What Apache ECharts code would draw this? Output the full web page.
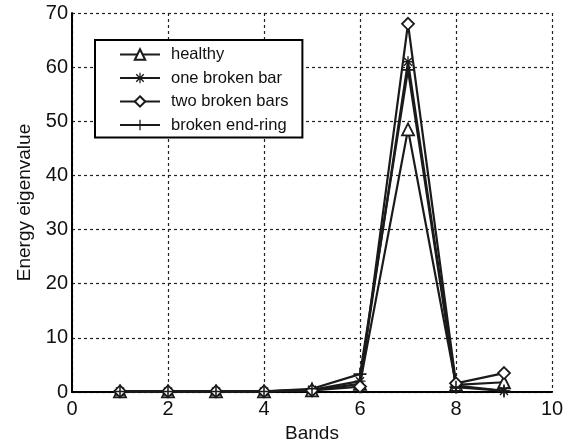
<!DOCTYPE html>
<html>
<head>
<meta charset="utf-8">
<script src="https://cdn.jsdelivr.net/npm/echarts@6/dist/echarts.min.js"></script>
<style>
html,body{margin:0;padding:0;background:#fff;}
#chart{width:578px;height:444px;}
</style>
</head>
<body>
<div id="chart"></div>
<script>
const bands = [1, 2, 3, 4, 5, 6, 7, 8, 9];
const healthy = [0.1, 0.1, 0.1, 0.1, 0.3, 1.5, 48.5, 1.3, 1.8];
const oneBrokenBar = [0.1, 0.1, 0.1, 0.1, 0.4, 2.0, 61.0, 1.2, 0.2];
const twoBrokenBars = [0.1, 0.1, 0.1, 0.1, 0.3, 1.0, 68.0, 1.6, 3.5];
const brokenEndRing = [0.1, 0.1, 0.1, 0.1, 0.6, 3.3, 59.5, 0.9, 0.2];
const xTicks = [0, 2, 4, 6, 8, 10];
const yTicks = [0, 10, 20, 30, 40, 50, 60, 70];

const STAR = 'path://M4.4,0 L5.6,0 L5.6,10 L4.4,10 Z M0.9,1.8 L1.8,0.9 L9.1,8.2 L8.2,9.1 Z M8.2,0.9 L9.1,1.8 L1.8,9.1 L0.9,8.2 Z M0,4.4 L10,4.4 L10,5.6 L0,5.6 Z';
const PLUS = 'path://M4.4,0 L5.6,0 L5.6,4.4 L10,4.4 L10,5.6 L5.6,5.6 L5.6,10 L4.4,10 L4.4,5.6 L0,5.6 L0,4.4 L4.4,4.4 Z';

function pairs(vals){ return bands.map((b,i)=>[b, vals[i]]); }
const ink = '#1a1a1a';
function mk(name, vals, symbol, hollow, size){
  return {
    name: name, type: 'line', data: pairs(vals),
    symbol: symbol, symbolSize: size, showSymbol: true,
    lineStyle: {color: ink, width: 2.2},
    itemStyle: hollow ? {color: '#fff', borderColor: ink, borderWidth: 1.8} : {color: ink, borderColor: ink, borderWidth: 0},
    emphasis: {disabled: true},
    animation: false
  };
}

const chart = echarts.init(document.getElementById('chart'));
chart.setOption({
  backgroundColor: '#fff',
  textStyle: {fontFamily: 'Liberation Sans, Arial, sans-serif'},
  grid: {left: 72, right: 26, top: 13, bottom: 52, containLabel: false, outerBoundsMode: 'none'},
  legend: {
    orient: 'vertical', left: 95, top: 40,
    padding: [6, 14, 4, 24],
    itemGap: 6.5, itemWidth: 40, itemHeight: 13,
    borderColor: '#000', borderWidth: 2, backgroundColor: '#fff',
    textStyle: {fontSize: 16.5, color: '#111', padding: [0, 0, 0, 6], fontFamily: 'Liberation Sans, Arial, sans-serif'},
    data: ['healthy', 'one broken bar', 'two broken bars', 'broken end-ring']
  },
  xAxis: {
    type: 'value', min: xTicks[0], max: xTicks[xTicks.length-1], interval: 2,
    name: 'Bands', nameLocation: 'middle', nameGap: 30,
    nameTextStyle: {fontSize: 19, color: '#111'},
    axisLine: {lineStyle: {color: '#000', width: 2}},
    axisTick: {show: false},
    axisLabel: {fontSize: 20, color: '#111', margin: 7},
    splitLine: {show: true, lineStyle: {color: '#222', type: [3, 3], width: 1.2}}
  },
  yAxis: {
    type: 'value', min: yTicks[0], max: yTicks[yTicks.length-1], interval: 10,
    name: 'Energy eigenvalue', nameLocation: 'middle', nameGap: 38,
    nameTextStyle: {fontSize: 19, color: '#111'},
    axisLine: {show: true, lineStyle: {color: '#000', width: 2}},
    axisTick: {show: false},
    axisLabel: {fontSize: 20, color: '#111', margin: 4},
    splitLine: {show: true, lineStyle: {color: '#222', type: [3, 3], width: 1.2}}
  },
  series: [
    mk('healthy', healthy, 'triangle', true, 12),
    mk('one broken bar', oneBrokenBar, STAR, false, 11),
    mk('two broken bars', twoBrokenBars, 'diamond', true, 12),
    mk('broken end-ring', brokenEndRing, PLUS, false, 13)
  ]
});
</script>
</body>
</html>
